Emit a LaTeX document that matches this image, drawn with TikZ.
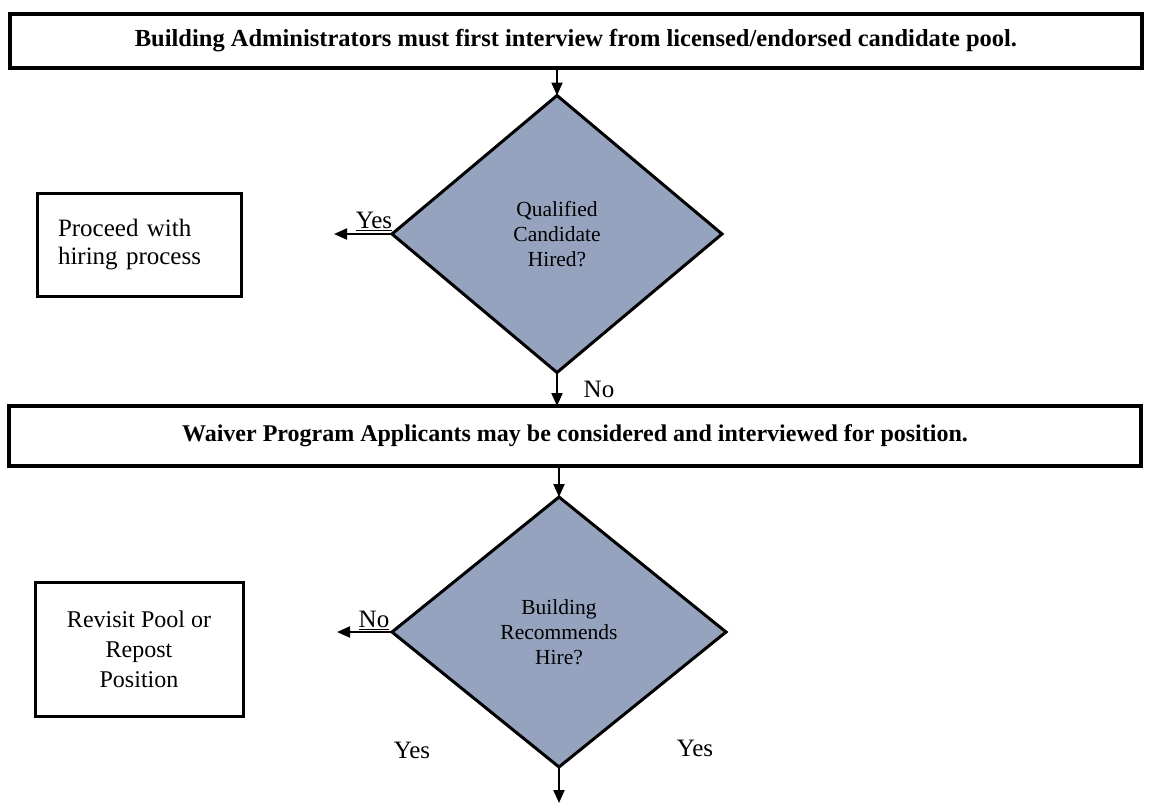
\documentclass[tikz,border=0pt]{standalone}
\usepackage{fontspec}
\setmainfont{Liberation Serif}
\usetikzlibrary{shapes.geometric,arrows.meta}
\definecolor{dfill}{HTML}{95A3BE}
\tikzset{
  widebox/.style={draw, line width=3.5pt, minimum width=1132pt, minimum height=54pt, inner sep=0pt, outer sep=0pt},
  sidebox/.style={draw, line width=3pt, inner sep=0pt, outer sep=0pt},
  decision/.style={diamond, draw, line width=3pt, fill=dfill, inner sep=0pt, outer sep=0pt, align=center,
     font=\fontsize{21.5}{25}\selectfont},
  flow/.style={line width=2pt, -{Triangle[length=13pt,width=11pt]}},
  lbl/.style={font=\fontsize{25}{28}\selectfont, inner sep=0pt}
}
\begin{document}
\begin{tikzpicture}[x=1pt,y=-1pt]
\useasboundingbox[fill=white] (0,0) rectangle (1150,804);
% top box
\node[widebox, font=\bfseries\fontsize{24.5}{28}\selectfont] (top) at (576,41)
  {Building Administrators must first interview from licensed/endorsed candidate pool.};
% decision 1
\node[decision, minimum width=330pt, minimum height=277pt] (d1) at (557,234)
  {Qualified\\Candidate\\Hired?};
% proceed box
\node[sidebox, minimum width=204pt, minimum height=103pt, text width=162pt, align=left,
  font=\fontsize{25}{28}\selectfont] (proc) at (139,245) {Proceed with\\hiring process};
\coordinate (y1end) at (334,234);
\draw[flow] (d1.west) -- (y1end);
\node[lbl, anchor=south] (yes1) at (374,231) {\underline{Yes}};
% waiver box
\node[widebox, minimum height=60pt, font=\bfseries\fontsize{24}{28}\selectfont] (wbox) at (575,436)
  {Waiver Program Applicants may be considered and interviewed for position.};
\draw[flow] (d1.south) -- (d1.south |- wbox.north);
\node[lbl] (no1) at (599,389) {No};
\draw[flow] (top.south -| d1.north) -- (d1.north);
% decision 2
\node[decision, minimum width=334pt, minimum height=270pt] (d2) at (559,632)
  {Building\\Recommends\\Hire?};
\draw[flow] (wbox.south -| d2.north) -- (d2.north);
\coordinate (n2end) at (337,632);
\draw[flow] (d2.west) -- (n2end);
\node[lbl, anchor=south] (no2) at (374,630) {\underline{No}};
% revisit box
\node[sidebox, minimum width=208pt, minimum height=134pt, align=center,
  font=\fontsize{24}{30}\selectfont] (rev) at (139,649) {Revisit Pool or\\Repost\\Position};
% yes labels
\node[lbl] (yes2) at (412,750) {Yes};
\node[lbl] (yes3) at (695,748) {Yes};
\coordinate (bend) at (559,803);
\draw[flow] (d2.south) -- (bend);
\end{tikzpicture}
\end{document}
